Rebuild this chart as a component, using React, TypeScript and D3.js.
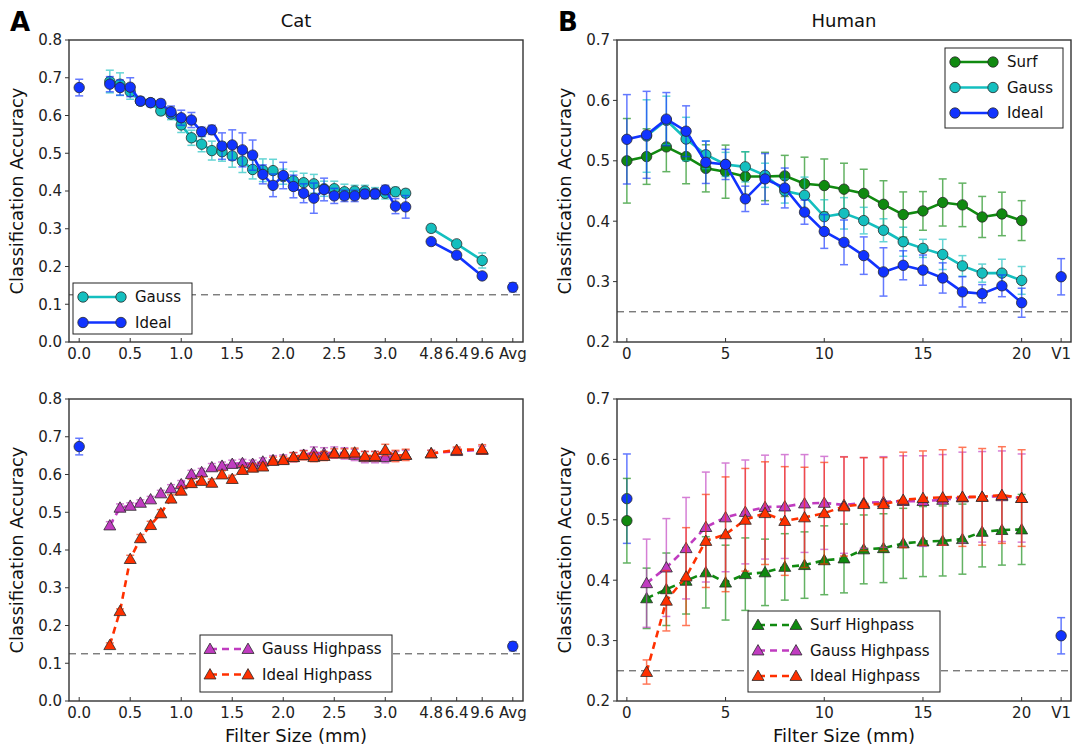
import React from "react";
import * as d3 from "d3";

const W = 1072;
const H = 747;

// ---- Cat (panel A) ----
const catSizes = [0.3, 0.4, 0.5, 0.6, 0.7, 0.8, 0.9, 1.0, 1.1, 1.2, 1.3, 1.4, 1.5, 1.6, 1.7, 1.8, 1.9, 2.0, 2.1, 2.2, 2.3, 2.4, 2.5, 2.6, 2.7, 2.8, 2.9, 3.0, 3.1, 3.2];
const catLargeSizes = ["4.8", "6.4", "9.6"];
const catXTicks = [0, 0.5, 1.0, 1.5, 2.0, 2.5, 3.0];

const catGauss = [0.69, 0.683, 0.663, 0.638, 0.634, 0.612, 0.604, 0.575, 0.541, 0.524, 0.507, 0.504, 0.493, 0.479, 0.457, 0.455, 0.454, 0.438, 0.427, 0.422, 0.419, 0.406, 0.406, 0.398, 0.4, 0.4, 0.394, 0.394, 0.398, 0.394];
const catGaussErr = [0.03, 0.03, 0.02, 0.01, 0.01, 0.01, 0.015, 0.02, 0.02, 0.02, 0.025, 0.025, 0.03, 0.03, 0.025, 0.03, 0.03, 0.02, 0.025, 0.025, 0.025, 0.02, 0.02, 0.02, 0.015, 0.015, 0.015, 0.015, 0.012, 0.01];
const catIdeal = [0.683, 0.674, 0.675, 0.638, 0.634, 0.632, 0.61, 0.594, 0.588, 0.557, 0.562, 0.519, 0.522, 0.509, 0.495, 0.444, 0.415, 0.441, 0.412, 0.394, 0.381, 0.404, 0.387, 0.387, 0.387, 0.392, 0.392, 0.403, 0.36, 0.358];
const catIdealErr = [0.02, 0.02, 0.025, 0.01, 0.01, 0.01, 0.015, 0.02, 0.02, 0.012, 0.012, 0.035, 0.04, 0.045, 0.04, 0.025, 0.03, 0.035, 0.03, 0.025, 0.04, 0.03, 0.02, 0.015, 0.015, 0.012, 0.012, 0.012, 0.02, 0.03];
const catGaussLarge = [0.301, 0.26, 0.216];
const catGaussLargeErr = [0.01, 0.006, 0.02];
const catIdealLarge = [0.266, 0.23, 0.175];
const catIdealLargeErr = [0.005, 0.005, 0.006];

const catGaussHp = [0.465, 0.512, 0.517, 0.525, 0.534, 0.55, 0.563, 0.574, 0.601, 0.606, 0.619, 0.623, 0.628, 0.63, 0.628, 0.634, 0.638, 0.64, 0.646, 0.652, 0.658, 0.656, 0.658, 0.656, 0.652, 0.646, 0.646, 0.646, 0.649, 0.652];
const catGaussHpErr = [0.01, 0.01, 0.008, 0.008, 0.008, 0.008, 0.01, 0.01, 0.01, 0.01, 0.01, 0.01, 0.01, 0.01, 0.01, 0.01, 0.012, 0.012, 0.012, 0.012, 0.015, 0.015, 0.015, 0.015, 0.015, 0.015, 0.015, 0.015, 0.012, 0.012];
const catIdealHp = [0.148, 0.238, 0.376, 0.431, 0.466, 0.497, 0.536, 0.557, 0.577, 0.583, 0.578, 0.6, 0.588, 0.612, 0.618, 0.621, 0.636, 0.638, 0.646, 0.651, 0.646, 0.649, 0.656, 0.656, 0.658, 0.649, 0.649, 0.665, 0.649, 0.652];
const catIdealHpErr = [0.006, 0.006, 0.01, 0.01, 0.01, 0.01, 0.01, 0.01, 0.01, 0.01, 0.01, 0.01, 0.01, 0.01, 0.01, 0.01, 0.01, 0.01, 0.012, 0.012, 0.012, 0.012, 0.012, 0.012, 0.012, 0.012, 0.012, 0.015, 0.015, 0.015];
const catGaussHpLarge = [0.656, 0.662, 0.665];
const catGaussHpLargeErr = [0.008, 0.008, 0.01];
const catIdealHpLarge = [0.656, 0.665, 0.667];
const catIdealHpLargeErr = [0.008, 0.008, 0.012];

const catUnfiltered = 0.674;
const catUnfilteredErr = 0.022;
const catAvg = 0.145;
const catAvgErr = 0.012;
const catChance = 0.125;

// ---- Human (panel B) ----
const humanSizes = [0, 1, 2, 3, 4, 5, 6, 7, 8, 9, 10, 11, 12, 13, 14, 15, 16, 17, 18, 19, 20];
const humanFiltSizes = humanSizes.slice(1);
const humanXTicks = [0, 5, 10, 15, 20];

const humanSurf = [0.5, 0.507, 0.523, 0.507, 0.4875, 0.482, 0.474, 0.474, 0.475, 0.462, 0.459, 0.453, 0.446, 0.428, 0.411, 0.417, 0.431, 0.427, 0.407, 0.412, 0.401];
const humanSurfErr = [0.07, 0.046, 0.041, 0.045, 0.039, 0.044, 0.041, 0.04, 0.034, 0.044, 0.044, 0.043, 0.04, 0.039, 0.0375, 0.032, 0.039, 0.036, 0.034, 0.036, 0.033];
const humanGauss = [0.541, 0.567, 0.536, 0.51, 0.494, 0.49, 0.476, 0.45, 0.443, 0.4075, 0.413, 0.401, 0.385, 0.366, 0.355, 0.345, 0.326, 0.314, 0.314, 0.302];
const humanGaussErr = [0.06, 0.04, 0.036, 0.023, 0.02, 0.025, 0.02, 0.02, 0.03, 0.028, 0.026, 0.022, 0.019, 0.024, 0.015, 0.025, 0.017, 0.015, 0.023, 0.023];
const humanIdeal = [0.5356, 0.543, 0.569, 0.549, 0.4975, 0.494, 0.437, 0.47, 0.455, 0.415, 0.383, 0.365, 0.343, 0.316, 0.327, 0.319, 0.306, 0.283, 0.28, 0.293, 0.265];
const humanIdealErr = [0.074, 0.072, 0.044, 0.042, 0.035, 0.025, 0.021, 0.042, 0.033, 0.02, 0.028, 0.037, 0.031, 0.04, 0.024, 0.025, 0.025, 0.025, 0.015, 0.018, 0.024];

const humanSurfHp = [0.37, 0.385, 0.399, 0.413, 0.396, 0.41, 0.413, 0.422, 0.425, 0.433, 0.436, 0.451, 0.453, 0.461, 0.464, 0.465, 0.468, 0.48, 0.483, 0.484];
const humanSurfHpErr = [0.05, 0.06, 0.055, 0.059, 0.062, 0.06, 0.055, 0.055, 0.055, 0.057, 0.057, 0.057, 0.057, 0.058, 0.058, 0.058, 0.058, 0.058, 0.058, 0.058];
const humanGaussHp = [0.395, 0.421, 0.453, 0.488, 0.504, 0.513, 0.521, 0.522, 0.527, 0.528, 0.5245, 0.528, 0.5295, 0.531, 0.531, 0.533, 0.537, 0.538, 0.539, 0.536];
const humanGaussHpErr = [0.073, 0.081, 0.084, 0.091, 0.09, 0.086, 0.086, 0.086, 0.081, 0.077, 0.08, 0.075, 0.075, 0.075, 0.075, 0.075, 0.075, 0.075, 0.075, 0.073];
const humanIdealHp = [0.248, 0.366, 0.406, 0.465, 0.476, 0.5, 0.511, 0.498, 0.504, 0.511, 0.522, 0.526, 0.526, 0.533, 0.536, 0.537, 0.538, 0.538, 0.541, 0.536];
const humanIdealHpErr = [0.02, 0.05, 0.081, 0.077, 0.095, 0.085, 0.085, 0.09, 0.083, 0.084, 0.082, 0.077, 0.077, 0.079, 0.078, 0.079, 0.082, 0.08, 0.08, 0.08];

const humanUnfiltIdeal = 0.535;
const humanUnfiltIdealErr = 0.074;
const humanUnfiltSurf = 0.4985;
const humanUnfiltSurfErr = 0.07;
const humanV1 = 0.308;
const humanV1Err = 0.03;
const humanChance = 0.25;

// colours
const CYAN = "#14bfbf";
const BLUE = "#1133ff";
const GREEN = "#108a10";
const MAGENTA = "#c03cc0";
const RED = "#ff3000";

const FONT = "DejaVu Sans, Liberation Sans, sans-serif";

type Pt = { x: number; y: number; e: number };
type Series = {
  name: string;
  color: string;
  dashed: boolean;
  marker: "circle" | "triangle";
  segments: Pt[][];
};
type Single = { x: number; y: number; e: number; color: string };

const zip = (xs: number[], ys: number[], es: number[]): Pt[] =>
  xs.map((x, i) => ({ x, y: ys[i], e: es[i] }));

// placement of the non-linear columns on the cat x axis
const catExtra = d3.scaleOrdinal<string, number>().domain(["4.8", "6.4", "9.6", "Avg"]).range([3.45, 3.7, 3.95, 4.25]);

const triangle = d3.symbol().type(d3.symbolTriangle).size(62);

function Marker({ kind, cx, cy, color }: { kind: string; cx: number; cy: number; color: string }) {
  if (kind === "circle") {
    return <circle cx={cx} cy={cy} r={5.2} fill={color} stroke="#2a2a2a" strokeWidth={0.8} />;
  }
  return <path d={triangle() as string} transform={`translate(${cx},${cy + 1})`} fill={color} stroke="#2a2a2a" strokeWidth={0.8} />;
}

function ErrBar({ cx, cy0, cy1, color }: { cx: number; cy0: number; cy1: number; color: string }) {
  return (
    <g stroke={color} strokeWidth={1.5} opacity={0.65}>
      <line x1={cx} x2={cx} y1={cy0} y2={cy1} />
      <line x1={cx - 4} x2={cx + 4} y1={cy0} y2={cy0} />
      <line x1={cx - 4} x2={cx + 4} y1={cy1} y2={cy1} />
    </g>
  );
}

type PanelProps = {
  x: d3.ScaleLinear<number, number>;
  y: d3.ScaleLinear<number, number>;
  yTicks: number[];
  xTicks: { v: number; label: string }[];
  series: Series[];
  singles: Single[];
  chance: number;
  legend: { x: number; y: number; w: number; h: number };
  xLabel?: string;
};

function Panel({ x, y, yTicks, xTicks, series, singles, chance, legend, xLabel }: PanelProps) {
  const [x0, x1] = x.range();
  const [y0, y1] = y.range();
  const line = d3
    .line<Pt>()
    .x((d) => x(d.x))
    .y((d) => y(d.y));

  return (
    <g fontFamily={FONT}>
      {/* chance level */}
      <line x1={x0} x2={x1} y1={y(chance)} y2={y(chance)} stroke="#444" strokeWidth={1} strokeDasharray="7,5" />

      {singles.map((s, i) => (
        <g key={"s" + i}>
          <ErrBar cx={x(s.x)} cy0={y(s.y - s.e)} cy1={y(s.y + s.e)} color={s.color} />
          <Marker kind="circle" cx={x(s.x)} cy={y(s.y)} color={s.color} />
        </g>
      ))}

      {series.map((s) => (
        <g key={s.name}>
          {s.segments.flat().map((p, i) => (
            <ErrBar key={i} cx={x(p.x)} cy0={y(p.y - p.e)} cy1={y(p.y + p.e)} color={s.color} />
          ))}
          {s.segments.map((seg, i) => (
            <path
              key={"l" + i}
              d={line(seg) as string}
              fill="none"
              stroke={s.color}
              strokeWidth={2.6}
              strokeDasharray={s.dashed ? "7,5" : undefined}
            />
          ))}
          {s.segments.flat().map((p, i) => (
            <Marker key={"m" + i} kind={s.marker} cx={x(p.x)} cy={y(p.y)} color={s.color} />
          ))}
        </g>
      ))}

      {/* frame */}
      <rect x={x0} y={y1} width={x1 - x0} height={y0 - y1} fill="none" stroke="#333" strokeWidth={1.4} />

      {/* y axis */}
      {yTicks.map((t) => (
        <g key={t}>
          <line x1={x0 - 4} x2={x0} y1={y(t)} y2={y(t)} stroke="#333" strokeWidth={1} />
          <text x={x0 - 7} y={y(t)} dy="0.36em" textAnchor="end" fontSize={15} fill="#222">
            {d3.format(".1f")(t)}
          </text>
        </g>
      ))}
      {/* x axis */}
      {xTicks.map((t) => (
        <g key={t.label}>
          <line x1={x(t.v)} x2={x(t.v)} y1={y0} y2={y0 - 4} stroke="#333" strokeWidth={1} />
          <text x={x(t.v)} y={y0 + 17} textAnchor="middle" fontSize={15} fill="#222">
            {t.label}
          </text>
        </g>
      ))}

      <text
        transform={`translate(${x0 - 46},${(y0 + y1) / 2}) rotate(-90)`}
        textAnchor="middle"
        fontSize={18}
        fill="#111"
      >
        Classification Accuracy
      </text>
      {xLabel && (
        <text x={(x0 + x1) / 2} y={y0 + 41} textAnchor="middle" fontSize={18} fill="#111">
          {xLabel}
        </text>
      )}

      {/* legend */}
      <g>
        <rect x={legend.x} y={legend.y} width={legend.w} height={legend.h} fill="white" stroke="#222" strokeWidth={1} />
        {series.map((s, i) => {
          const ly = legend.y + 14 + i * 25.5;
          const lx0 = legend.x + 10;
          const lx1 = legend.x + 48;
          return (
            <g key={"lg" + s.name}>
              <line x1={lx0} x2={lx1} y1={ly} y2={ly} stroke={s.color} strokeWidth={2.6} strokeDasharray={s.dashed ? "7,5" : undefined} />
              <Marker kind={s.marker} cx={lx0} cy={ly} color={s.color} />
              <Marker kind={s.marker} cx={lx1} cy={ly} color={s.color} />
              <text x={legend.x + 62} y={ly} dy="0.36em" fontSize={15} fill="#111">
                {s.name}
              </text>
            </g>
          );
        })}
      </g>
    </g>
  );
}

export default function App() {
  const catX = d3.scaleLinear().domain([-0.1, 4.35]).range([69, 523]);
  const humX = d3.scaleLinear().domain([-0.5, 22.5]).range([617, 1071]);
  const catYTop = d3.scaleLinear().domain([0, 0.8]).range([342, 40]);
  const catYBot = d3.scaleLinear().domain([0, 0.8]).range([701, 399]);
  const humYTop = d3.scaleLinear().domain([0.2, 0.7]).range([342, 40]);
  const humYBot = d3.scaleLinear().domain([0.2, 0.7]).range([701, 399]);

  const largeX = catLargeSizes.map((l) => catExtra(l));
  const catTicks = [
    ...catXTicks.map((v) => ({ v, label: d3.format(".1f")(v) })),
    ...["4.8", "6.4", "9.6", "Avg"].map((l) => ({ v: catExtra(l), label: l })),
  ];
  const humTicks = [...humanXTicks.map((v) => ({ v, label: String(v) })), { v: 22, label: "V1" }];

  const catTopSeries: Series[] = [
    { name: "Gauss", color: CYAN, dashed: false, marker: "circle", segments: [zip(catSizes, catGauss, catGaussErr), zip(largeX, catGaussLarge, catGaussLargeErr)] },
    { name: "Ideal", color: BLUE, dashed: false, marker: "circle", segments: [zip(catSizes, catIdeal, catIdealErr), zip(largeX, catIdealLarge, catIdealLargeErr)] },
  ];
  const catBotSeries: Series[] = [
    { name: "Gauss Highpass", color: MAGENTA, dashed: true, marker: "triangle", segments: [zip(catSizes, catGaussHp, catGaussHpErr), zip(largeX, catGaussHpLarge, catGaussHpLargeErr)] },
    { name: "Ideal Highpass", color: RED, dashed: true, marker: "triangle", segments: [zip(catSizes, catIdealHp, catIdealHpErr), zip(largeX, catIdealHpLarge, catIdealHpLargeErr)] },
  ];
  const catSingles: Single[] = [
    { x: 0, y: catUnfiltered, e: catUnfilteredErr, color: BLUE },
    { x: catExtra("Avg"), y: catAvg, e: catAvgErr, color: BLUE },
  ];

  const humTopSeries: Series[] = [
    { name: "Surf", color: GREEN, dashed: false, marker: "circle", segments: [zip(humanSizes, humanSurf, humanSurfErr)] },
    { name: "Gauss", color: CYAN, dashed: false, marker: "circle", segments: [zip(humanFiltSizes, humanGauss, humanGaussErr)] },
    { name: "Ideal", color: BLUE, dashed: false, marker: "circle", segments: [zip(humanSizes, humanIdeal, humanIdealErr)] },
  ];
  const humBotSeries: Series[] = [
    { name: "Surf Highpass", color: GREEN, dashed: true, marker: "triangle", segments: [zip(humanFiltSizes, humanSurfHp, humanSurfHpErr)] },
    { name: "Gauss Highpass", color: MAGENTA, dashed: true, marker: "triangle", segments: [zip(humanFiltSizes, humanGaussHp, humanGaussHpErr)] },
    { name: "Ideal Highpass", color: RED, dashed: true, marker: "triangle", segments: [zip(humanFiltSizes, humanIdealHp, humanIdealHpErr)] },
  ];

  return (
    <div style={{ position: "absolute", left: 0, top: 0 }}>
      <svg width={W} height={H} style={{ display: "block", background: "white" }}>
        <text x={10} y={31} fontFamily={FONT} fontWeight="bold" fontSize={26} fill="#000">A</text>
        <text x={558} y={31} fontFamily={FONT} fontWeight="bold" fontSize={26} fill="#000">B</text>
        <text x={296} y={27} textAnchor="middle" fontFamily={FONT} fontSize={18} fill="#111">Cat</text>
        <text x={844} y={27} textAnchor="middle" fontFamily={FONT} fontSize={18} fill="#111">Human</text>

        <Panel
          x={catX}
          y={catYTop}
          yTicks={[0, 0.1, 0.2, 0.3, 0.4, 0.5, 0.6, 0.7, 0.8]}
          xTicks={catTicks}
          series={catTopSeries}
          singles={catSingles}
          chance={catChance}
          legend={{ x: 73, y: 283, w: 119, h: 51 }}
        />
        <Panel
          x={catX}
          y={catYBot}
          yTicks={[0, 0.1, 0.2, 0.3, 0.4, 0.5, 0.6, 0.7, 0.8]}
          xTicks={catTicks}
          series={catBotSeries}
          singles={catSingles}
          chance={catChance}
          legend={{ x: 200, y: 635, w: 192, h: 57 }}
          xLabel="Filter Size (mm)"
        />
        <Panel
          x={humX}
          y={humYTop}
          yTicks={[0.2, 0.3, 0.4, 0.5, 0.6, 0.7]}
          xTicks={humTicks}
          series={humTopSeries}
          singles={[{ x: 22, y: humanV1, e: humanV1Err, color: BLUE }]}
          chance={humanChance}
          legend={{ x: 945, y: 48, w: 118, h: 80 }}
        />
        <Panel
          x={humX}
          y={humYBot}
          yTicks={[0.2, 0.3, 0.4, 0.5, 0.6, 0.7]}
          xTicks={humTicks}
          series={humBotSeries}
          singles={[
            { x: 0, y: humanUnfiltIdeal, e: humanUnfiltIdealErr, color: BLUE },
            { x: 0, y: humanUnfiltSurf, e: humanUnfiltSurfErr, color: GREEN },
            { x: 22, y: humanV1, e: humanV1Err, color: BLUE },
          ]}
          chance={humanChance}
          legend={{ x: 748, y: 611, w: 192, h: 81 }}
          xLabel="Filter Size (mm)"
        />
      </svg>
    </div>
  );
}
